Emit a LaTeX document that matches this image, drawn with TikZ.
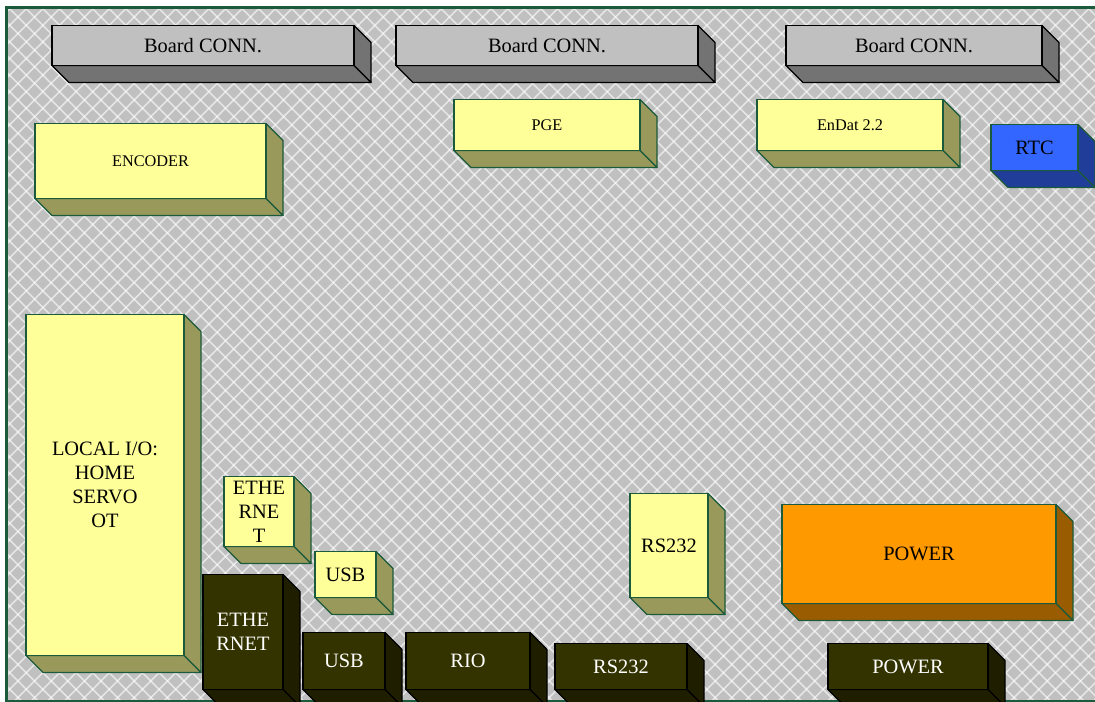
\documentclass[tikz,border=0pt]{standalone}
\usepackage{fontspec}
\setmainfont{Liberation Serif}
\usepackage{xcolor}
\usetikzlibrary{positioning, calc}

\definecolor{framegreen}{HTML}{1B5A3A}
\definecolor{boardgray}{HTML}{C0C0C0}
\definecolor{paleyellow}{HTML}{FFFF99}
\definecolor{darkolive}{HTML}{333300}
\definecolor{rtcblue}{HTML}{3366FF}
\definecolor{powerorange}{HTML}{FF9900}

\begin{document}
\begin{tikzpicture}[
    x=0.75pt,
    y=-0.75pt,
    dims/.style 2 args={
        minimum width=#1*0.75pt,
        minimum height=#2*0.75pt
    },
    block/.style 2 args={
        rectangle,
        anchor=north west,
        draw=#1,
        fill=#2,
        line width=0.9pt,
        inner sep=0pt,
        outer sep=0pt,
        align=center,
        yshift=-0.375pt,
        font=\fontsize{15.3}{18}\selectfont,
        append after command={\pgfextra{
            \draw[draw=#1, fill=#2!60!black, line width=0.9pt, line join=round]
                (\tikzlastnode.north east) -- ++(17,17)
                -- ($(\tikzlastnode.south east)+(17,17)$)
                -- (\tikzlastnode.south east) -- cycle;
            \draw[draw=#1, fill=#2!60!black, line width=0.9pt, line join=round]
                (\tikzlastnode.south west) -- ++(17,17)
                -- ($(\tikzlastnode.south east)+(17,17)$)
                -- (\tikzlastnode.south east) -- cycle;
        }}
    },
    board/.style={block={black}{boardgray}},
    module/.style={block={framegreen}{paleyellow}},
    header/.style={block={black}{darkolive}, text=white},
    smalltext/.style={font=\fontsize{12.2}{14}\selectfont}
]

\clip (0,0) rectangle (1095,702);

% board background
\fill[boardgray] (6,7.5) rectangle (1095,701);
\begin{scope}
    \clip (6,7.5) rectangle (1095,701);
    \foreach \k in {-60,...,100} {
        \draw[white, line width=1.2pt, opacity=0.6] (\k*16.6+250,0) -- ++(720,720);
        \draw[white, line width=1.2pt, opacity=0.6] (\k*16.6+782,0) -- ++(-720,720);
    }
\end{scope}
\coordinate (frameleft) at (6,7.5);
\draw[framegreen, line width=2.25pt] (1100,7.5) -- (frameleft) -- (6,701) -- (1100,701);

% connectors along the top
\node[board, dims={302}{40}] (boardA) at (52,25) {Board CONN.};
\node[board, dims={302}{40}] (boardB) at (396,25) {Board CONN.};
\node[board, dims={256}{40}] (boardC) at (786,25) {Board CONN.};

% feedback modules
\node[module, smalltext, dims={231}{75}] (encoder) at (35,123) {ENCODER};
\node[module, smalltext, dims={186}{51}] (pge) at (454,99) {PGE};
\node[module, smalltext, dims={186}{51}] (endat) at (757,99) {EnDat 2.2};
\node[block={framegreen}{rtcblue}, dims={87}{46}] (rtc) at (991,124) {RTC};

% modules on the board
\node[module, dims={158}{341}] (localio) at (26,314) {LOCAL I/O:\\HOME\\SERVO\\OT};
\node[module, dims={70}{70}] (ethmodule) at (224,476) {ETHE\\RNE\\T};
\node[module, dims={61}{46}] (usbmodule) at (315,551) {USB};
\node[module, dims={78}{104}] (rsmodule) at (630,493) {RS232};
\node[block={framegreen}{powerorange}, dims={274}{99}] (powermodule) at (782,504) {POWER};

% headers along the bottom
\node[header, dims={80}{115}] (ethheader) at (203,574) {ETHE\\RNET};
\node[header, dims={82}{57}] (usbheader) at (303,632) {USB};
\node[header, dims={124}{57}] (rioheader) at (406,632) {RIO};
\node[header, dims={132}{46}] (rsheader) at (555,643) {RS232};
\node[header, dims={160}{46}] (powerheader) at (828,643) {POWER};

\end{tikzpicture}
\end{document}
